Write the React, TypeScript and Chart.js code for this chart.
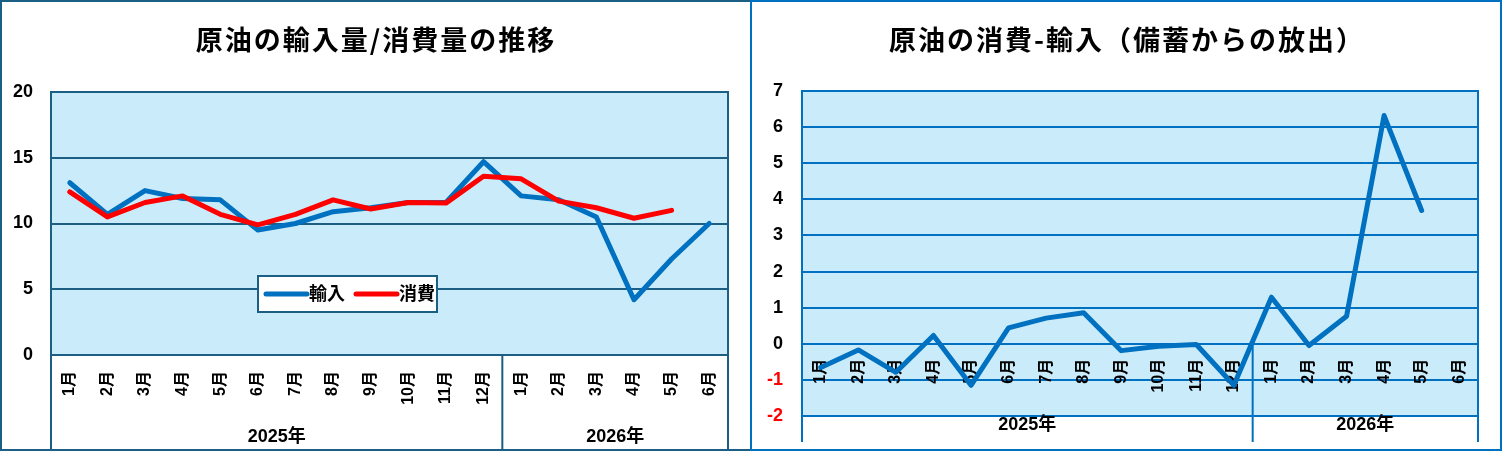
import React, { useEffect, useRef } from "react";
import { Chart, registerables } from "chart.js";

Chart.register(...registerables);

// ---------- data ----------
const monthLabels = [
  "1月", "2月", "3月", "4月", "5月", "6月", "7月", "8月", "9月", "10月", "11月", "12月",
  "1月", "2月", "3月", "4月", "5月", "6月",
];
const yearLabels = ["2025年", "2026年"];
const yearMonthCounts = [12, 6];

const importSeries = [13.1, 10.7, 12.5, 11.9, 11.8, 9.5, 10.0, 10.9, 11.2, 11.6, 11.6, 14.7, 12.1, 11.8, 10.5, 4.2, 7.3, 10.0];
const consumeSeries = [12.4, 10.5, 11.6, 12.1, 10.7, 9.9, 10.7, 11.8, 11.1, 11.6, 11.55, 13.6, 13.4, 11.7, 11.2, 10.4, 11.0, null];
const releaseSeries = [-0.66, -0.17, -0.79, 0.23, -1.15, 0.44, 0.71, 0.86, -0.19, -0.07, -0.02, -1.15, 1.29, -0.05, 0.76, 6.32, 3.69, null];

const leftTitle = "原油の輸入量/消費量の推移";
const rightTitle = "原油の消費-輸入（備蓄からの放出）";
const importLabel = "輸入";
const consumeLabel = "消費";

const leftAxis = { min: 0, max: 20, step: 5 };
const rightAxis = { min: -2, max: 7, step: 1 };

// ---------- styles ----------
const FONT = '"Liberation Sans", "Noto Sans CJK JP", sans-serif';
const TITLE_FONT = '"Noto Sans CJK JP", sans-serif';
const PLOT_BG = "#caecfa";
const TEAL = "#1b5f84";
const BLUE = "#0070c0";
const RED = "#ff0000";

type Panel = {
  lineColor: string;
  borderColor: string;
  axisAtZero: boolean;
  edgeFromTop: boolean;
  sepBottom: number;
  labelGap: number;
  yearY: number;
  title: string;
  legend: boolean;
};

function panelPlugin(p: Panel) {
  return {
    id: "panelDeco",
    beforeDraw(chart: any) {
      const { ctx, chartArea: a } = chart;
      ctx.save();
      ctx.fillStyle = "#ffffff";
      ctx.fillRect(0, 0, chart.width, chart.height);
      ctx.fillStyle = PLOT_BG;
      ctx.fillRect(a.left, a.top, a.right - a.left, a.bottom - a.top);
      ctx.restore();
    },
    beforeDatasetsDraw(chart: any) {
      const { ctx, chartArea: a, scales } = chart;
      const xs = scales.x;
      const ys = scales.y;
      ctx.save();
      ctx.strokeStyle = p.lineColor;
      ctx.lineWidth = 2;
      ctx.strokeRect(a.left, a.top, a.right - a.left, a.bottom - a.top);
      const axisY = p.axisAtZero ? ys.getPixelForValue(0) : a.bottom;
      const edgeTop = p.edgeFromTop ? a.top : a.bottom;
      ctx.beginPath();
      ctx.moveTo(a.left, edgeTop);
      ctx.lineTo(a.left, p.sepBottom);
      ctx.moveTo(a.right, edgeTop);
      ctx.lineTo(a.right, p.sepBottom);
      const bounds: number[] = [a.left];
      let idx = 0;
      yearMonthCounts.forEach((n) => {
        idx += n;
        if (idx < monthLabels.length) {
          const sx = (xs.getPixelForValue(idx - 1) + xs.getPixelForValue(idx)) / 2;
          ctx.moveTo(sx, axisY);
          ctx.lineTo(sx, p.sepBottom);
          bounds.push(sx);
        }
      });
      bounds.push(a.right);
      ctx.stroke();

      ctx.fillStyle = "#000000";
      ctx.font = `bold 16px ${FONT}`;
      ctx.textAlign = "right";
      ctx.textBaseline = "middle";
      monthLabels.forEach((m, i) => {
        const px = xs.getPixelForValue(i);
        ctx.save();
        ctx.translate(px, axisY + p.labelGap);
        ctx.rotate(-Math.PI / 2);
        ctx.fillText(m, 0, 0);
        ctx.restore();
      });
      ctx.textAlign = "center";
      ctx.font = `bold 18px ${FONT}`;
      yearLabels.forEach((y, k) => {
        ctx.fillText(y, (bounds[k] + bounds[k + 1]) / 2, p.yearY);
      });
      ctx.restore();
    },
    afterDraw(chart: any) {
      const { ctx, chartArea: a } = chart;
      ctx.save();
      if (p.legend) {
        const lx = a.left + 207;
        const ly = a.top + 184;
        const lw = 179;
        const lh = 36;
        ctx.fillStyle = "#ffffff";
        ctx.fillRect(lx, ly, lw, lh);
        ctx.strokeStyle = p.lineColor;
        ctx.lineWidth = 2;
        ctx.strokeRect(lx, ly, lw, lh);
        const cy = ly + lh / 2;
        const items = [
          { c: BLUE, t: importLabel, x: lx + 6 },
          { c: RED, t: consumeLabel, x: lx + 96 },
        ];
        ctx.font = `bold 18px ${FONT}`;
        ctx.textAlign = "left";
        ctx.textBaseline = "middle";
        items.forEach((it) => {
          ctx.strokeStyle = it.c;
          ctx.lineWidth = 5;
          ctx.lineCap = "round";
          ctx.beginPath();
          ctx.moveTo(it.x + 2, cy);
          ctx.lineTo(it.x + 43, cy);
          ctx.stroke();
          ctx.fillStyle = "#000000";
          ctx.fillText(it.t, it.x + 45, cy + 1);
        });
      }
      // title
      ctx.fillStyle = "#000000";
      ctx.font = `bold 27px ${TITLE_FONT}`;
      (ctx as any).letterSpacing = "2px";
      ctx.textAlign = "center";
      ctx.textBaseline = "middle";
      ctx.fillText(p.title, chart.width / 2 + 1, 40);
      (ctx as any).letterSpacing = "0px";
      // panel border
      ctx.strokeStyle = p.borderColor;
      ctx.lineWidth = 2;
      ctx.lineCap = "butt";
      if (p.legend) {
        ctx.strokeRect(1, 1, chart.width + 10, 449);
      } else {
        ctx.strokeRect(1, 1, chart.width - 2, 449);
      }
      ctx.restore();
    },
  };
}

function buildLeft(): any {
  return {
    type: "line",
    data: {
      labels: monthLabels,
      datasets: [
        {
          label: importLabel,
          data: importSeries,
          borderColor: BLUE,
          borderWidth: 5,
          order: 1,
        },
        {
          label: consumeLabel,
          data: consumeSeries,
          borderColor: RED,
          borderWidth: 5,
          order: 0,
        },
      ],
    },
    options: {
      responsive: false,
      animation: false,
      devicePixelRatio: 1,
      layout: { padding: { left: 0, top: 92, right: 22, bottom: 97 } },
      elements: {
        point: { radius: 0 },
        line: { tension: 0, borderJoinStyle: "round", borderCapStyle: "round" },
      },
      plugins: { legend: { display: false }, title: { display: false }, tooltip: { enabled: false } },
      scales: {
        x: { type: "category", display: false, offset: true },
        y: {
          min: leftAxis.min,
          max: leftAxis.max,
          ticks: {
            stepSize: leftAxis.step,
            padding: 18,
            color: "#000000",
            font: { family: FONT, size: 18, weight: "bold" },
          },
          grid: { color: TEAL, lineWidth: 2, drawTicks: false },
          border: { display: false },
          afterFit: (s: any) => {
            s.width = 51;
          },
        },
      },
    },
    plugins: [
      panelPlugin({
        lineColor: TEAL,
        borderColor: TEAL,
        axisAtZero: false,
        edgeFromTop: true,
        sepBottom: 450,
        labelGap: 16,
        yearY: 437,
        title: leftTitle,
        legend: true,
      }),
    ],
  };
}

function buildRight(): any {
  return {
    type: "line",
    data: {
      labels: monthLabels,
      datasets: [
        {
          label: "消費-輸入",
          data: releaseSeries,
          borderColor: BLUE,
          borderWidth: 5,
        },
      ],
    },
    options: {
      responsive: false,
      animation: false,
      devicePixelRatio: 1,
      layout: { padding: { left: 0, top: 91, right: 24, bottom: 36 } },
      elements: {
        point: { radius: 0 },
        line: { tension: 0, borderJoinStyle: "round", borderCapStyle: "round" },
      },
      plugins: { legend: { display: false }, title: { display: false }, tooltip: { enabled: false } },
      scales: {
        x: { type: "category", display: false, offset: true },
        y: {
          min: rightAxis.min,
          max: rightAxis.max,
          ticks: {
            stepSize: rightAxis.step,
            padding: 19,
            color: (c: any) => (c.tick && c.tick.value < 0 ? RED : "#000000"),
            font: { family: FONT, size: 18, weight: "bold" },
          },
          grid: { color: BLUE, lineWidth: 2, drawTicks: false },
          border: { display: false },
          afterFit: (s: any) => {
            s.width = 52;
          },
        },
      },
    },
    plugins: [
      panelPlugin({
        lineColor: BLUE,
        borderColor: BLUE,
        axisAtZero: true,
        edgeFromTop: true,
        sepBottom: 442,
        labelGap: 15,
        yearY: 425,
        title: rightTitle,
        legend: false,
      }),
    ],
  };
}

function ChartCanvas({ build, left, width }: { build: () => any; left: number; width: number }) {
  const ref = useRef<HTMLCanvasElement>(null);
  useEffect(() => {
    const chart = new Chart(ref.current as HTMLCanvasElement, build());
    return () => chart.destroy();
  }, []);
  return (
    <div style={{ position: "absolute", left, top: 0, width, height: 452 }}>
      <canvas ref={ref} width={width} height={452} style={{ display: "block", width, height: 452 }} />
    </div>
  );
}

export default function App() {
  useEffect(() => {
    document.body.style.margin = "0";
  }, []);
  return (
    <div style={{ position: "absolute", left: 0, top: 0, width: 1502, height: 452, background: "#ffffff" }}>
      <ChartCanvas build={buildLeft} left={0} width={750} />
      <ChartCanvas build={buildRight} left={750} width={752} />
    </div>
  );
}
